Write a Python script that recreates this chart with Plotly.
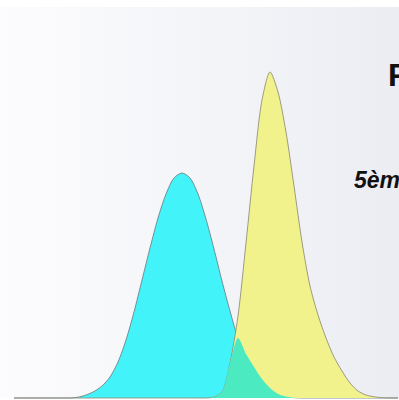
import numpy as np
import plotly.graph_objects as go

# x positions (arbitrary units)
x_vals = [1.4, 2.2, 3.0, 3.8, 4.6, 5.4, 6.2, 7.0, 7.8, 8.6, 9.4, 10.2, 11.0, 11.8, 12.6,
          13.4, 14.2, 15.0, 15.8, 16.6, 17.4, 18.2, 19.0, 19.8, 20.6, 21.4, 22.2, 23.0,
          23.8, 24.6, 25.4, 26.2, 27.0, 27.8, 28.6, 29.4, 30.2, 31.0, 31.8, 32.6, 33.4,
          34.2, 35.0, 35.8, 36.6, 37.4, 38.2, 39.0, 39.8]

# density of the first (cyan) distribution
cyan_vals = [0, 0, 0, 0, 0, 0, 0, 0, 0.008, 0.03, 0.065, 0.12, 0.21, 0.36, 0.58,
             0.86, 1.18, 1.50, 1.80, 2.04, 2.20, 2.25, 2.20, 2.04, 1.79, 1.49, 1.17,
             0.87, 0.60, 0.44, 0.31, 0.19, 0.10, 0.04, 0.015, 0.003, 0, 0, 0, 0, 0,
             0, 0, 0, 0, 0, 0, 0, 0]

# density of the second (yellow) distribution
yellow_vals = [0, 0, 0, 0, 0, 0, 0, 0, 0, 0, 0, 0, 0, 0, 0,
               0, 0, 0, 0, 0, 0, 0, 0, 0, 0, 0.01, 0.06, 0.35, 0.82, 1.55, 2.32,
               2.98, 3.26, 3.06, 2.66, 2.12, 1.56, 1.12, 0.83, 0.60, 0.41, 0.27,
               0.15, 0.07, 0.03, 0.012, 0.004, 0, 0]

title_text = "F"
subtitle_text = "5ème"

overlap_vals = np.minimum(np.array(cyan_vals), np.array(yellow_vals))

fig = go.Figure()

# gradient background panel
fig.add_trace(go.Scatter(
    x=[0, 39.9], y=[3.91, 3.91], mode="lines", line=dict(width=0),
    fill="tozeroy",
    fillgradient=dict(type="horizontal",
                      colorscale=[[0, "#FCFCFE"], [0.5, "#F4F5F8"], [1, "#ECEDF3"]]),
    hoverinfo="skip", showlegend=False))

fig.add_trace(go.Scatter(
    x=x_vals, y=cyan_vals, mode="lines", line=dict(color="rgba(110,125,130,0.85)", width=1, shape="spline", smoothing=0.8),
    fill="tozeroy", fillcolor="rgb(66,244,249)", showlegend=False))

fig.add_trace(go.Scatter(
    x=x_vals, y=yellow_vals, mode="lines", line=dict(color="rgba(140,140,120,0.85)", width=1, shape="spline", smoothing=0.8),
    fill="tozeroy", fillcolor="rgb(241,242,140)", showlegend=False))

fig.add_trace(go.Scatter(
    x=x_vals, y=overlap_vals, mode="lines", line=dict(color="rgba(0,0,0,0)", width=0, shape="spline", smoothing=0.8),
    fill="tozeroy", fillcolor="rgb(76,234,192)", showlegend=False))

fig.add_annotation(x=386 / 399, y=1 - 75 / 400, xref="paper", yref="paper",
                   text=title_text, showarrow=False, xanchor="left", yanchor="middle",
                   font=dict(family="Liberation Sans, Arial", size=32, color="#111111", weight="bold"))
fig.add_annotation(x=352 / 399, y=1 - 180 / 400, xref="paper", yref="paper",
                   text=subtitle_text, showarrow=False, xanchor="left", yanchor="middle",
                   font=dict(family="Liberation Sans, Arial", size=23, color="#111111",
                             weight="bold", style="italic"))

fig.update_layout(
    width=399, height=400,
    margin=dict(l=0, r=0, t=0, b=0),
    paper_bgcolor="white", plot_bgcolor="white",
    xaxis=dict(range=[0, 39.9], visible=False, fixedrange=True),
    yaxis=dict(range=[-0.02, 3.98], visible=False, fixedrange=True),
    showlegend=False,
)

fig.write_html("out.html", config={"displayModeBar": False},
               post_script="document.body.style.margin='0';document.body.style.overflow='hidden';")
